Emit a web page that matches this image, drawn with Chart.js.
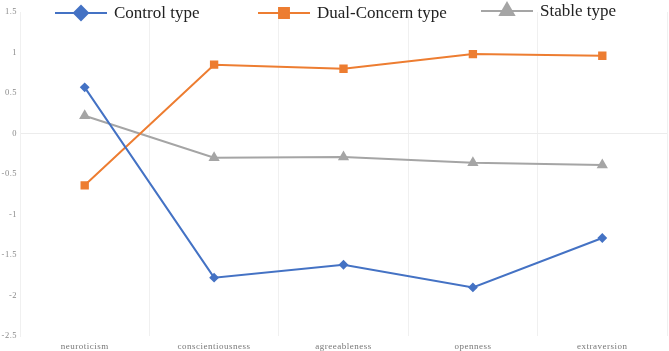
<!DOCTYPE html>
<html>
<head>
<meta charset="utf-8">
<script src="https://cdn.jsdelivr.net/npm/chart.js@4/dist/chart.umd.min.js"></script>
<style>
  html, body { margin: 0; padding: 0; background: #fff; }
  #wrap { width: 669px; height: 351px; }
</style>
</head>
<body>
<div id="wrap"><canvas id="report"></canvas></div>
<script>
// categories + series
var traits = ['neuroticism', 'conscientiousness', 'agreeableness', 'openness', 'extraversion'];
var controlType = [0.57, -1.78, -1.62, -1.90, -1.29];
var dualConcernType = [-0.64, 0.85, 0.80, 0.98, 0.96];
var stableType = [0.22, -0.30, -0.29, -0.36, -0.39];
var yTicks = [1.5, 1, 0.5, 0, -0.5, -1, -1.5, -2, -2.5];

var serif = '"Liberation Serif", "Times New Roman", serif';

// axis labels in the original are slightly spaced out
var spacedTicks = {
    id: 'spacedTicks',
    beforeDraw: function(chart) {
        chart.ctx.letterSpacing = '0.5px';
    }
};

// legend drawn on top of the plot, like the original
var topLegend = {
    id: 'topLegend',
    afterDraw: function(chart) {
        var ctx = chart.ctx;
        var items = [
            { x: 55, y: 13, ds: chart.data.datasets[0], r: 7 },
            { x: 258, y: 13, ds: chart.data.datasets[1], r: 7 },
            { x: 481, y: 11, ds: chart.data.datasets[2], r: 8 }
        ];
        ctx.save();
        ctx.letterSpacing = '0px';
        items.forEach(function(it) {
            var ds = it.ds;
            ctx.strokeStyle = ds.borderColor;
            ctx.lineWidth = 2;
            ctx.beginPath();
            ctx.moveTo(it.x, it.y);
            ctx.lineTo(it.x + 52, it.y);
            ctx.stroke();
            Chart.helpers.drawPoint(ctx, {
                pointStyle: ds.pointStyle,
                radius: it.r,
                rotation: 0,
                borderWidth: 1
            }, it.x + 26, it.y);
            ctx.fillStyle = ds.borderColor;
            ctx.fill();
            ctx.fillStyle = '#222';
            ctx.font = '17px ' + serif;
            ctx.textBaseline = 'middle';
            ctx.textAlign = 'left';
            ctx.fillText(ds.label, it.x + 59, it.y + 1);
        });
        ctx.restore();
    }
};

var ctx = document.getElementById('report').getContext('2d');
var typesChart = new Chart(ctx, {
    type: 'line',
    data: {
        labels: traits,
        datasets: [{
            label: 'Control type',
            data: controlType,
            borderColor: '#4472C4',
            backgroundColor: '#4472C4',
            pointStyle: 'rectRot',
            pointRadius: 3.5,
            borderWidth: 2
        }, {
            label: 'Dual-Concern type',
            data: dualConcernType,
            borderColor: '#ED7D31',
            backgroundColor: '#ED7D31',
            pointStyle: 'rect',
            pointRadius: 4.5,
            borderWidth: 2
        }, {
            label: 'Stable type',
            data: stableType,
            borderColor: '#A5A5A5',
            backgroundColor: '#A5A5A5',
            pointStyle: 'triangle',
            pointRadius: 4.5,
            borderWidth: 2
        }]
    },
    options: {
        responsive: true,
        maintainAspectRatio: false,
        animation: false,
        events: [],
        layout: { autoPadding: false, padding: { top: 12, right: 2, left: 0, bottom: 0 } },
        plugins: {
            legend: { display: false },
            tooltip: { enabled: false }
        },
        scales: {
            x: {
                offset: true,
                grid: { offset: true, color: '#f0f0f0', drawTicks: false },
                border: { display: false },
                ticks: {
                    color: '#777',
                    font: { family: serif, size: 9 },
                    padding: 5,
                    maxRotation: 0
                },
                afterFit: function(scale) { scale.height = 15; }
            },
            y: {
                min: -2.5,
                max: 1.5,
                afterBuildTicks: function(scale) {
                    scale.ticks = yTicks.map(function(v) { return { value: v }; });
                },
                grid: {
                    drawTicks: false,
                    color: function(c) { return c.tick && c.tick.value === 0 ? '#ececec' : 'rgba(0,0,0,0)'; }
                },
                border: { display: true, color: '#f0f0f0' },
                ticks: {
                    color: '#8a8a8a',
                    font: { family: serif, size: 8.5 },
                    padding: 3,
                    callback: function(value) { return String(value); }
                },
                afterFit: function(scale) { scale.width = 20; }
            }
        }
    },
    plugins: [spacedTicks, topLegend]
});
</script>
</body>
</html>
